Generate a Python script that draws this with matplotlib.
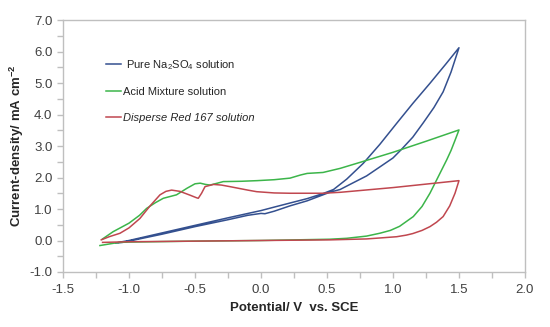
import matplotlib
matplotlib.use("Agg")
import matplotlib.pyplot as plt
from matplotlib.ticker import MultipleLocator

plt.rcParams.update({
    "font.family": ["Liberation Sans", "DejaVu Sans"],
    "mathtext.default": "regular",
})

# ── Data (potential V vs. SCE, current density mA cm-2) ──

na2so4_v = [-1.10, -1.05, -1.00, -0.75, -0.50, -0.25, -0.10, 0.00, 0.03, 0.10, 0.22,
            0.35, 0.47, 0.52, 0.60, 0.674, 0.80, 0.902, 1.00, 1.066, 1.15, 1.23,
            1.31, 1.38, 1.44, 1.50, 1.40, 1.28, 1.15, 1.028, 0.90, 0.775, 0.65,
            0.55, 0.47, 0.35, 0.22, 0.10, 0.00, -0.25, -0.50, -0.75, -1.00, -1.08]
na2so4_i = [-0.08, -0.06, -0.02, 0.20, 0.44, 0.66, 0.80, 0.86, 0.85, 0.93, 1.10,
            1.26, 1.45, 1.53, 1.62, 1.78, 2.05, 2.34, 2.62, 2.90, 3.28, 3.74,
            4.22, 4.72, 5.35, 6.12, 5.60, 4.99, 4.35, 3.72, 3.05, 2.45, 1.95,
            1.62, 1.49, 1.33, 1.19, 1.06, 0.95, 0.72, 0.48, 0.24, 0.00, -0.06]

acid_v = [-1.20, -1.12, -1.00, -0.92, -0.866, -0.80, -0.74, -0.64, -0.56, -0.50,
          -0.46, -0.42, -0.386, -0.33, -0.286, -0.15, -0.03, 0.10, 0.22, 0.30,
          0.35, 0.47, 0.60, 0.75, 1.00, 1.25, 1.50, 1.47, 1.44, 1.407, 1.34,
          1.28, 1.22, 1.154, 1.05, 0.98, 0.90, 0.80, 0.65, 0.52, 0.00, -0.50,
          -1.00, -1.068, -1.12, -1.22]
acid_i = [0.05, 0.28, 0.55, 0.80, 1.02, 1.20, 1.34, 1.45, 1.66, 1.80,
          1.82, 1.78, 1.76, 1.82, 1.87, 1.88, 1.90, 1.93, 1.98, 2.08,
          2.13, 2.16, 2.29, 2.48, 2.80, 3.15, 3.51, 3.18, 2.86, 2.56, 2.00,
          1.50, 1.08, 0.76, 0.45, 0.32, 0.23, 0.14, 0.07, 0.04, 0.00, -0.02,
          -0.05, -0.06, -0.09, -0.16]

dr167_v = [-1.21, -1.15, -1.068, -1.00, -0.917, -0.84, -0.765, -0.72, -0.677, -0.614,
           -0.538, -0.49, -0.475, -0.45, -0.424, -0.36, -0.30, -0.235, -0.10, -0.033,
           0.10, 0.22, 0.47, 0.60, 1.00, 1.50, 1.47, 1.43, 1.38, 1.33, 1.28,
           1.22, 1.15, 1.10, 1.028, 0.90, 0.80, 0.523, 0.00, -0.50, -1.00, -1.20]
dr167_i = [0.02, 0.12, 0.23, 0.40, 0.70, 1.10, 1.45, 1.56, 1.60, 1.56,
           1.44, 1.36, 1.34, 1.50, 1.71, 1.78, 1.76, 1.71, 1.60, 1.55,
           1.51, 1.50, 1.50, 1.53, 1.68, 1.90, 1.50, 1.10, 0.76, 0.58, 0.44,
           0.32, 0.22, 0.17, 0.12, 0.08, 0.05, 0.02, 0.00, -0.02, -0.04, -0.06]

labels = [" Pure Na$_2$SO$_4$ solution", "Acid Mixture solution", "Disperse Red 167 solution"]
colors = ["#34508f", "#3cb54a", "#c0474f"]

# ── Plot ──────────────────────────────────────────────────────────────────────

fig = plt.figure(figsize=(5.5, 3.27), dpi=100)
ax = fig.add_axes([0.1145, 0.1682, 0.84, 0.7706])

ax.plot(na2so4_v, na2so4_i, color=colors[0], lw=1.1, label=labels[0])
ax.plot(acid_v, acid_i, color=colors[1], lw=1.1, label=labels[1])
ax.plot(dr167_v, dr167_i, color=colors[2], lw=1.1, label=labels[2])

ax.set_xlim(-1.5, 2.0)
ax.set_ylim(-1.0, 7.0)
ax.xaxis.set_major_locator(MultipleLocator(0.5))
ax.xaxis.set_minor_locator(MultipleLocator(0.25))
ax.yaxis.set_major_locator(MultipleLocator(1.0))
ax.yaxis.set_minor_locator(MultipleLocator(0.5))
ax.xaxis.set_major_formatter(lambda v, p: f"{v:.1f}")
ax.yaxis.set_major_formatter(lambda v, p: f"{v:.1f}")

for s in ax.spines.values():
    s.set_color("#bfbfbf")
    s.set_linewidth(1.0)
ax.tick_params(which="both", direction="out", length=4, width=1.0, color="#bfbfbf",
               labelsize=9.5, labelcolor="#404040")
ax.tick_params(axis="x", pad=5)

ax.set_xlabel("Potential/ V  vs. SCE", fontsize=9.5, fontweight="bold", color="#262626")
ax.set_ylabel("Current-density/ mA cm$^{-2}$", fontsize=9.5, fontweight="bold", color="#262626")
ax.yaxis.set_label_coords(-0.081, 0.5)

leg = ax.legend(loc="upper left", bbox_to_anchor=(0.072, 0.89), frameon=False,
                fontsize=8, handlelength=1.3, handletextpad=0.25, labelspacing=1.4)
leg.get_texts()[2].set_fontstyle("italic")
for t in leg.get_texts():
    t.set_color("#262626")

fig.savefig("out.png", dpi=100)
